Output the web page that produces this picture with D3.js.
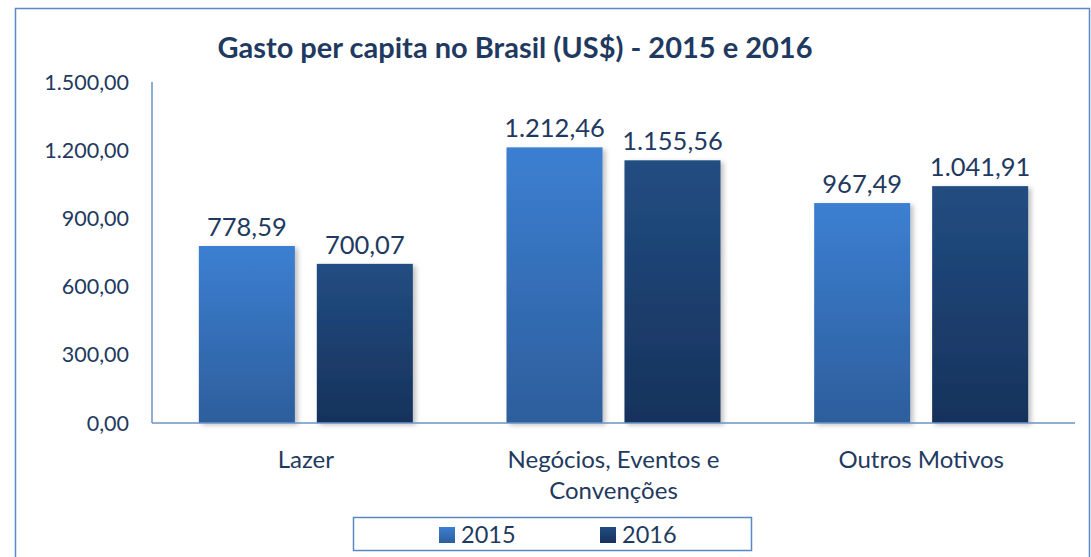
<!DOCTYPE html>
<html>
<head>
<meta charset="utf-8">
<script src="https://cdn.jsdelivr.net/npm/d3@7"></script>
<style>
  body { margin: 0; background: #fff; }
  svg { display: block; }
</style>
</head>
<body>
<script>
// data
const categories = ["Lazer", "Negócios, Eventos e|Convenções", "Outros Motivos"];
const series = ["2015", "2016"];
const values2015 = [778.59, 1212.46, 967.49];
const values2016 = [700.07, 1155.56, 1041.91];
const yTicks = [0, 300, 600, 900, 1200, 1500];

const width = 1091, height = 557;
const font = "Lato, 'Open Sans', sans-serif";
const textColor = "#1f3a60";

const fmt = d3.formatLocale({decimal: ",", thousands: ".", grouping: [3], currency: ["", ""]}).format(",.2f");

const svg = d3.select("body").append("svg")
    .attr("width", width)
    .attr("height", height)
    .attr("font-family", font);

const defs = svg.append("defs");
const grads = [["g2015", "#3c7fd2", "#2d5e9c"], ["g2016", "#224d82", "#16325b"]];
grads.forEach(([id, top, bottom]) => {
  const g = defs.append("linearGradient").attr("id", id)
      .attr("x1", 0).attr("y1", 0).attr("x2", 0).attr("y2", 1);
  g.append("stop").attr("offset", "0%").attr("stop-color", top);
  g.append("stop").attr("offset", "100%").attr("stop-color", bottom);
});
defs.append("filter").attr("id", "shadow")
    .attr("x", "-10%").attr("y", "-10%").attr("width", "130%").attr("height", "120%")
  .append("feDropShadow")
    .attr("dx", 3).attr("dy", 2).attr("stdDeviation", 2.5)
    .attr("flood-color", "#000").attr("flood-opacity", 0.25);

// outer frame
svg.append("rect")
    .attr("x", 15.5).attr("y", 8.5)
    .attr("width", 1074).attr("height", 560)
    .attr("fill", "none")
    .attr("stroke", "#5b87c3")
    .attr("stroke-width", 1.5);

svg.append("text")
    .attr("x", 515).attr("y", 58)
    .attr("text-anchor", "middle")
    .attr("font-weight", "bold")
    .attr("font-size", 29)
    .attr("fill", textColor)
    .text("Gasto per capita no Brasil (US$) - 2015 e 2016");

const x = d3.scaleBand()
    .domain(categories)
    .range([152, 1075]);

const xs = d3.scaleBand()
    .domain(series)
    .range([0, x.bandwidth()])
    .paddingInner(0.186)
    .paddingOuter(0.397);

const y = d3.scaleLinear()
    .domain([0, 1500])
    .range([423, 82]);

// y axis labels
svg.append("g")
  .selectAll("text")
  .data(yTicks)
  .join("text")
    .attr("x", 129)
    .attr("y", d => y(d))
    .attr("dy", "0.35em")
    .attr("text-anchor", "end")
    .attr("font-size", 21.5)
    .attr("fill", textColor)
    .text(d => fmt(d));

const rows = categories.map((c, i) => ({cat: c, vals: [values2015[i], values2016[i]]}));

const group = svg.append("g")
  .selectAll("g")
  .data(rows)
  .join("g")
    .attr("transform", d => `translate(${x(d.cat)},0)`);

group.selectAll("rect")
  .data(d => d.vals.map((v, j) => ({s: series[j], v})))
  .join("rect")
    .attr("x", d => xs(d.s))
    .attr("y", d => y(d.v))
    .attr("width", xs.bandwidth())
    .attr("height", d => y(0) - y(d.v))
    .attr("fill", d => `url(#g${d.s})`)
    .attr("filter", "url(#shadow)");

group.selectAll("text.val")
  .data(d => d.vals.map((v, j) => ({s: series[j], v})))
  .join("text")
    .attr("class", "val")
    .attr("x", d => xs(d.s) + xs.bandwidth() / 2)
    .attr("y", d => y(d.v) - 10)
    .attr("text-anchor", "middle")
    .attr("font-size", 25.5)
    .attr("fill", textColor)
    .text(d => fmt(d.v));

// axes lines
svg.append("line")
    .attr("x1", 152).attr("x2", 152)
    .attr("y1", y(1500)).attr("y2", y(0))
    .attr("stroke", "#6a93c9").attr("stroke-width", 1.5);
svg.append("line")
    .attr("x1", 152).attr("x2", 1075)
    .attr("y1", y(0)).attr("y2", y(0))
    .attr("stroke", "#6a93c9").attr("stroke-width", 1.5);

// category labels
const cl = svg.append("g")
  .selectAll("text")
  .data(categories)
  .join("text")
    .attr("text-anchor", "middle")
    .attr("font-size", 24)
    .attr("fill", textColor);
cl.selectAll("tspan")
  .data(d => d.split("|").map(t => ({t, c: d})))
  .join("tspan")
    .attr("x", d => x(d.c) + x.bandwidth() / 2)
    .attr("y", (d, i) => 468 + i * 31)
    .text(d => d.t);

// legend
const lg = svg.append("g");
lg.append("rect")
    .attr("x", 353.5).attr("y", 517.5)
    .attr("width", 398).attr("height", 33)
    .attr("fill", "#fff")
    .attr("stroke", "#5b87c3").attr("stroke-width", 1.5);
const legendX = [439, 600];
series.forEach((s, i) => {
  lg.append("rect")
      .attr("x", legendX[i]).attr("y", 527)
      .attr("width", 16).attr("height", 16)
      .attr("fill", `url(#g${s})`);
  lg.append("text")
      .attr("x", legendX[i] + 22).attr("y", 543)
      .attr("font-size", 23.5)
      .attr("fill", textColor)
      .text(s);
});
</script>
</body>
</html>
